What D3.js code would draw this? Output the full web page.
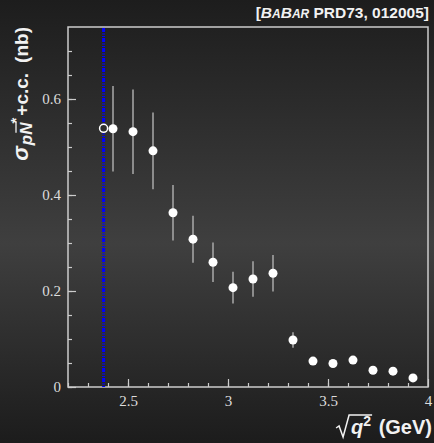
<!DOCTYPE html>
<html>
<head>
<meta charset="utf-8">
<script src="https://cdn.jsdelivr.net/npm/d3@7"></script>
<style>
  body { margin: 0; background: #222; }
  svg { display: block; }
</style>
</head>
<body>
<svg id="svg" width="434" height="443"></svg>
<script>
// data
var sqrtQ2 = [2.425, 2.525, 2.625, 2.725, 2.825, 2.925, 3.025, 3.125, 3.225, 3.325, 3.425, 3.525, 3.625, 3.725, 3.825, 3.925];
var sigma  = [0.538, 0.532, 0.492, 0.363, 0.308, 0.260, 0.207, 0.225, 0.237, 0.098, 0.054, 0.049, 0.056, 0.035, 0.033, 0.019];
var sigErr = [0.089, 0.088, 0.080, 0.058, 0.049, 0.041, 0.033, 0.037, 0.038, 0.016, 0.006, 0.006, 0.006, 0.005, 0.005, 0.004];
var thresholdX = [2.378];
var thresholdSigma = [0.539];
var xTicks = [2.5, 3, 3.5, 4];
var yTicks = [0, 0.2, 0.4, 0.6];

var svg = d3.select("#svg"),
    width = 434,
    height = 443;

var margin = {top: 27, right: 6, bottom: 56, left: 68};
var serif = "'Liberation Serif', 'Times New Roman', serif";
var sans = "'Liberation Sans', Arial, sans-serif";

var x = d3.scaleLinear().domain([2.2, 4.0]).range([margin.left, width - margin.right]);
var y = d3.scaleLinear().domain([0, 0.75]).range([height - margin.bottom, margin.top]);

// background gradient
var defs = svg.append("defs");
var grad = defs.append("linearGradient")
    .attr("id", "bg")
    .attr("x1", 0).attr("y1", 0).attr("x2", 0).attr("y2", 1);
grad.append("stop").attr("offset", "0%").attr("stop-color", "#1d1d1d");
grad.append("stop").attr("offset", "55%").attr("stop-color", "#3f3f3f");
grad.append("stop").attr("offset", "100%").attr("stop-color", "#1c1c1c");

svg.append("rect")
    .attr("width", width).attr("height", height)
    .attr("fill", "url(#bg)");

// minor ticks
var xMinor = d3.range(22, 40).map(function(d) { return d / 10; });
var yMinor = d3.range(0, 15).map(function(d) { return d * 0.05; });

svg.append("g")
    .attr("transform", "translate(0," + y(0) + ")")
    .call(d3.axisBottom(x).tickValues(xMinor).tickSizeInner(-4).tickSizeOuter(0).tickFormat(""))
    .call(function(g) { g.select(".domain").remove(); })
    .selectAll("line").attr("stroke", "#ccc").attr("stroke-width", 1.2);

svg.append("g")
    .attr("transform", "translate(" + x(2.2) + ",0)")
    .call(d3.axisLeft(y).tickValues(yMinor).tickSizeInner(-4).tickSizeOuter(0).tickFormat(""))
    .call(function(g) { g.select(".domain").remove(); })
    .selectAll("line").attr("stroke", "#ccc").attr("stroke-width", 1.2);

// major ticks + labels
var xAxis = svg.append("g")
    .attr("transform", "translate(0," + y(0) + ")")
    .call(d3.axisBottom(x).tickValues(xTicks).tickSizeInner(-8).tickSizeOuter(0).tickPadding(8).tickFormat(d3.format("")));
xAxis.select(".domain").remove();

var yAxis = svg.append("g")
    .attr("transform", "translate(" + x(2.2) + ",0)")
    .call(d3.axisLeft(y).tickValues(yTicks).tickSizeInner(-8).tickSizeOuter(0).tickPadding(7).tickFormat(d3.format("")));
yAxis.select(".domain").remove();

svg.selectAll(".tick line").attr("stroke", "#ccc").attr("stroke-width", 1.2);
svg.selectAll(".tick text")
    .attr("fill", "#ddd")
    .style("font-family", serif)
    .style("font-size", "15px");

// frame
svg.append("rect")
    .attr("x", x(2.2)).attr("y", y(0.75))
    .attr("width", x(4.0) - x(2.2))
    .attr("height", y(0) - y(0.75))
    .attr("fill", "none")
    .attr("stroke", "#ccc")
    .attr("stroke-width", 1.5);

// threshold line
svg.selectAll(".thr")
    .data(thresholdX)
    .enter().append("line")
    .attr("class", "thr")
    .attr("x1", function(d) { return x(d); })
    .attr("x2", function(d) { return x(d); })
    .attr("y1", y(0.75) + 1)
    .attr("y2", y(0))
    .attr("stroke", "#0000ff")
    .attr("stroke-width", 3)
    .attr("stroke-dasharray", "4,1.5,1,1.5,1,1");

// error bars
svg.append("g").selectAll("line")
    .data(sqrtQ2)
    .enter().append("line")
    .attr("x1", function(d) { return x(d); })
    .attr("x2", function(d) { return x(d); })
    .attr("y1", function(d, i) { return y(sigma[i] + sigErr[i]); })
    .attr("y2", function(d, i) { return y(sigma[i] - sigErr[i]); })
    .attr("stroke", "#aaa")
    .attr("stroke-width", 1.5);

// points
svg.append("g").selectAll("circle")
    .data(sqrtQ2)
    .enter().append("circle")
    .attr("cx", function(d) { return x(d); })
    .attr("cy", function(d, i) { return y(sigma[i]); })
    .attr("r", 4.5)
    .attr("fill", "#fff");

// open point at threshold
svg.append("g").selectAll("circle")
    .data(thresholdX)
    .enter().append("circle")
    .attr("cx", function(d) { return x(d); })
    .attr("cy", function(d, i) { return y(thresholdSigma[i]); })
    .attr("r", 4)
    .attr("fill", "#2e2e2e")
    .attr("stroke", "#fff")
    .attr("stroke-width", 1.5);

// title
var title = svg.append("text")
    .attr("x", 429).attr("y", 18)
    .attr("text-anchor", "end")
    .attr("fill", "#f2f2f2")
    .style("font-family", sans)
    .style("font-weight", "bold")
    .style("font-size", "15.5px");
title.append("tspan").text("[");
title.append("tspan").attr("font-style", "italic").text("B");
title.append("tspan").attr("font-style", "italic").attr("font-size", "12px").text("A");
title.append("tspan").attr("font-style", "italic").text("B");
title.append("tspan").attr("font-style", "italic").attr("font-size", "12px").text("AR");
title.append("tspan").text(" PRD73, 012005]");

// y title
var ylab = svg.append("text")
    .attr("transform", "translate(28," + margin.top + ") rotate(-90)")
    .attr("text-anchor", "end")
    .attr("fill", "#f2f2f2")
    .style("font-family", sans)
    .style("font-weight", "bold")
    .style("font-size", "19px");
ylab.append("tspan").attr("font-style", "italic").attr("font-size", "22px").text("σ");
var sub = ylab.append("tspan").attr("font-style", "italic").attr("font-size", "17px").attr("dy", 4).attr("dx", 1).text("pN");
ylab.append("tspan").attr("font-size", "15px").attr("dy", -11).attr("dx", -1).text("*");
ylab.append("tspan").attr("dy", 7).attr("dx", 2).text("+c.c.");
ylab.append("tspan").attr("dx", 10).text("(nb)");

// bar over the N (anti-nucleon)
var nBox = sub.node().getExtentOfChar(1);
var bx = 28 - 15; // rotated frame: text x maps to -y
svg.append("line")
    .attr("transform", "translate(28," + margin.top + ") rotate(-90)")
    .attr("x1", nBox.x + 2).attr("x2", nBox.x + nBox.width + 1)
    .attr("y1", nBox.y - 1).attr("y2", nBox.y - 1)
    .attr("stroke", "#f2f2f2")
    .attr("stroke-width", 1.3);

// x title
var xlab = svg.append("text")
    .attr("x", 432).attr("y", 434)
    .attr("text-anchor", "end")
    .attr("fill", "#f2f2f2")
    .style("font-family", sans)
    .style("font-weight", "bold")
    .style("font-size", "20px");
var q = xlab.append("tspan").attr("font-style", "italic").text("q");
var sq = xlab.append("tspan").attr("font-size", "14px").attr("dy", -8).text("2");
xlab.append("tspan").attr("dy", 8).attr("dx", 2).text(" (GeV)");

// square root sign drawn by hand
var b1 = q.node().getExtentOfChar(0);
var n2 = sq.node().getExtentOfChar(0);
var x0 = b1.x, x1 = n2.x + n2.width + 1;
svg.append("path")
    .attr("d", "M" + (x0 - 15) + ",428 L" + (x0 - 12) + ",426 L" + (x0 - 8) + ",437 L" + (x0 - 2) + ",415 L" + x1 + ",415")
    .attr("fill", "none")
    .attr("stroke", "#f2f2f2")
    .attr("stroke-width", 1.5);
</script>
</body>
</html>
